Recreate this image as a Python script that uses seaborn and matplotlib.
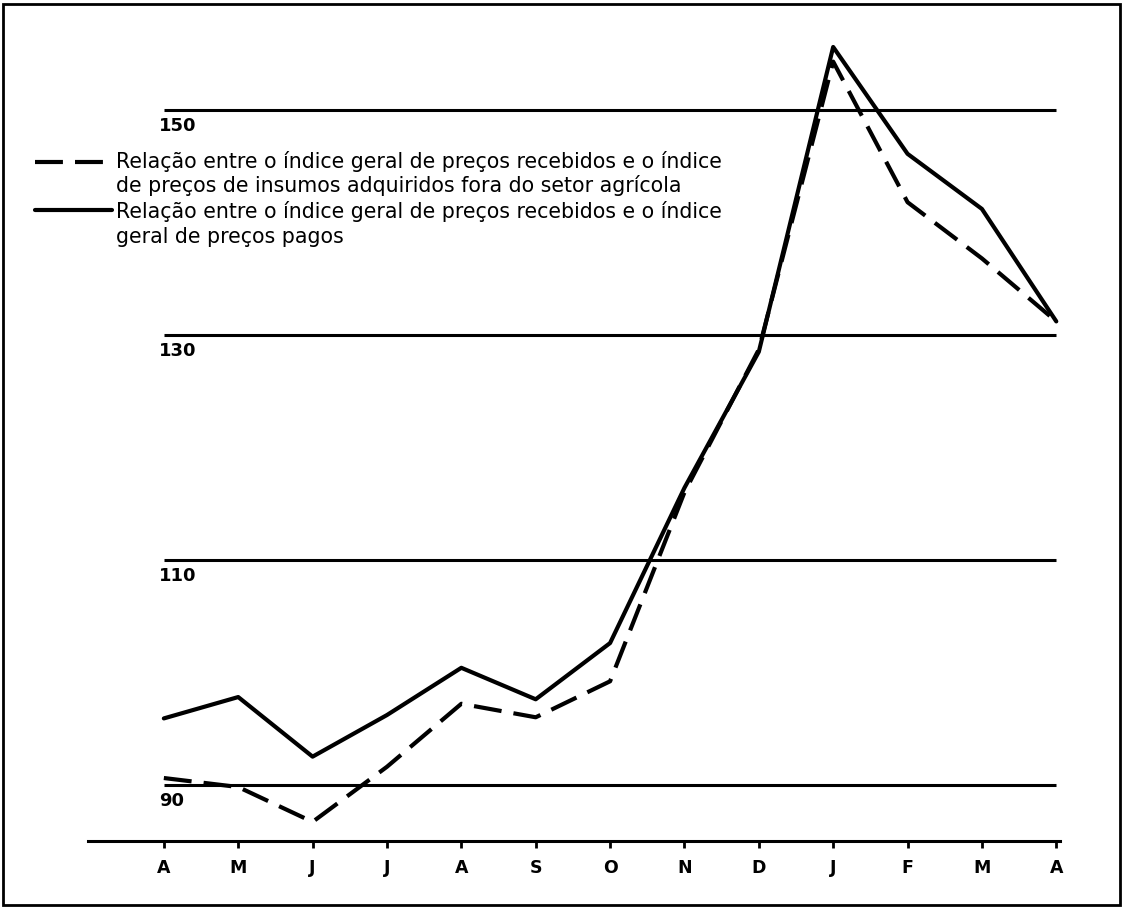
import matplotlib
matplotlib.use("Agg")
import matplotlib.pyplot as plt
from matplotlib.lines import Line2D
from matplotlib.patches import Rectangle
import seaborn as sns

# data
meses = ['A', 'M', 'J', 'J', 'A', 'S', 'O', 'N', 'D', 'J', 'F', 'M', 'A']
rel_insumos = [90.6, 89.8, 86.7, 91.6, 97.2, 96.0, 99.2, 116.0, 128.7, 154.3, 141.8, 136.8, 131.2]
rel_pagos = [95.9, 97.8, 92.5, 96.2, 100.4, 97.6, 102.6, 116.4, 128.5, 155.6, 146.1, 141.2, 131.2]
niveis = [90, 110, 130, 150]
rotulo_insumos = ["Relação entre o índice geral de preços recebidos e o índice",
                  "de preços de insumos adquiridos fora do setor agrícola"]
rotulo_pagos = ["Relação entre o índice geral de preços recebidos e o índice",
                "geral de preços pagos"]

sns.set_style("white")
plt.rcParams['font.family'] = ['DejaVu Sans']
plt.rcParams['text.color'] = 'black'

fig = plt.figure(figsize=(11.24, 9.09), dpi=100)
ax = fig.add_axes([88 / 1124, 68 / 909, 972 / 1124, 821 / 909])

x = list(range(len(meses)))
ax.hlines(niveis, 0, len(meses) - 1, color='black', lw=2.2, zorder=1)

tracejado = (0, (6.7, 2.9))
sns.lineplot(x=x, y=rel_pagos, ax=ax, color='black', lw=3.0, zorder=3)
sns.lineplot(x=x, y=rel_insumos, ax=ax, color='black', lw=3.0, zorder=3, linestyle=tracejado)

ax.set_xlim(-1.02, 12.05)
ax.set_ylim(85, 158)

for s in ['top', 'right', 'left']:
    ax.spines[s].set_visible(False)
ax.spines['bottom'].set_linewidth(2.2)
ax.spines['bottom'].set_color('black')

ax.set_xticks(x)
ax.set_xticklabels(meses, fontsize=12.5, fontweight='bold', color='black')
ax.tick_params(axis='x', length=5, width=2, pad=8, direction='out', colors='black', bottom=True)
ax.set_yticks([])

for v in niveis:
    ax.text(-0.06, v - 0.6, str(v), fontsize=13, fontweight='bold', ha='left', va='top', color='black')

# legend, drawn to follow the original layout
fs = 14.8
px = lambda a, b: (a / 1124, 1 - b / 909)
fig.add_artist(Line2D([35 / 1124, 112 / 1124], [1 - 162 / 909] * 2, color='black', lw=3.0,
                      linestyle=tracejado))
fig.add_artist(Line2D([35 / 1124, 112 / 1124], [1 - 210 / 909] * 2, color='black', lw=3.0))
for linha, yy in zip(rotulo_insumos + rotulo_pagos, [162, 186, 211, 237]):
    fig.text(*px(116, yy), linha, fontsize=fs, ha='left', va='center', color='black')

fig.add_artist(Rectangle((3 / 1124, 4 / 909), 1117 / 1124, 901 / 909, transform=fig.transFigure,
                         fill=False, lw=2, edgecolor='black'))

fig.savefig("out.png", dpi=100)
